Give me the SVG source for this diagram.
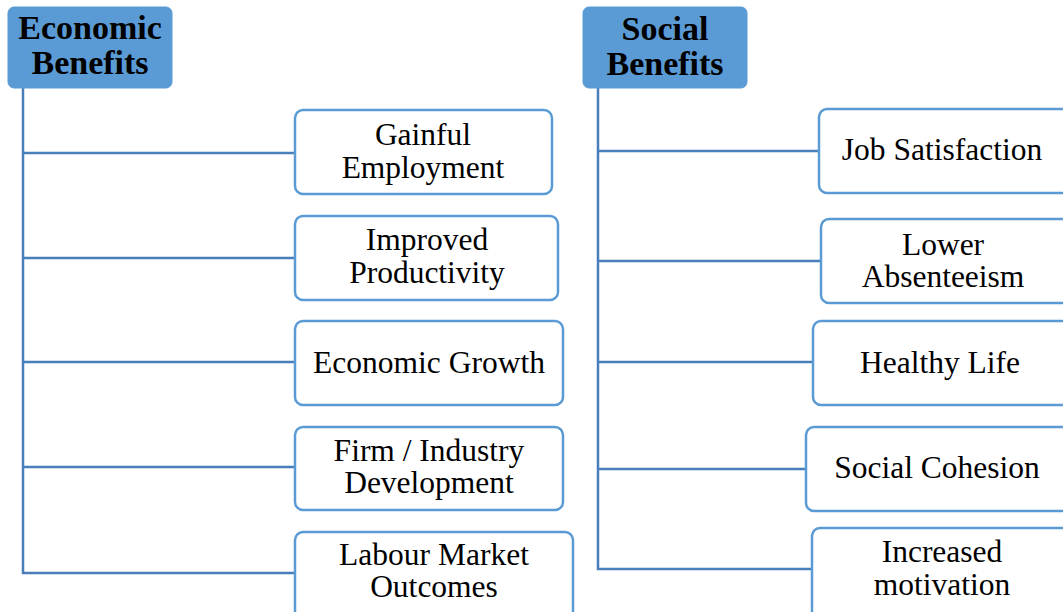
<svg xmlns="http://www.w3.org/2000/svg" width="1063" height="612" viewBox="0 0 1063 612">
<style>
.hdr{fill:#5B9BD5;stroke:#5B9BD5;stroke-width:1}
.box{fill:#fff;stroke:#5B9BD5;stroke-width:2.5}
.ht{font-family:"Liberation Serif","Times New Roman",serif;font-weight:bold;font-size:34px;fill:#000;text-anchor:middle}
.bt{font-family:"Liberation Serif","Times New Roman",serif;font-size:31.5px;fill:#000;text-anchor:middle}
.con{fill:none;stroke:#4A7EBB;stroke-width:2.5}
</style>
<rect width="1063" height="612" fill="#fff"/>
<g id="connectors">
<path class="con" d="M23 88 V573 H295"/>
<path class="con" d="M23 153 H295 M23 258 H295 M23 362 H295 M23 467 H295"/>
<path class="con" d="M598 88 V569 H812"/>
<path class="con" d="M598 151 H819 M598 261 H821 M598 362 H813 M598 469 H806"/>
</g>
<g id="economic">
<rect class="hdr" x="8" y="7" width="164" height="81" rx="6"/>
<text class="ht" x="90" y="39">Economic</text>
<text class="ht" x="90" y="74">Benefits</text>
</g>
<g id="social">
<rect class="hdr" x="583" y="7" width="164" height="81" rx="6"/>
<text class="ht" x="665" y="40">Social</text>
<text class="ht" x="665" y="75">Benefits</text>
</g>
<g id="gainful">
<rect class="box" x="295" y="110" width="257" height="84" rx="8"/>
<text class="bt" x="423" y="145">Gainful</text>
<text class="bt" x="423" y="178">Employment</text>
</g>
<g id="productivity">
<rect class="box" x="295" y="216" width="263" height="84" rx="8"/>
<text class="bt" x="427" y="250">Improved</text>
<text class="bt" x="427" y="283">Productivity</text>
</g>
<g id="growth">
<rect class="box" x="295" y="321" width="268" height="84" rx="8"/>
<text class="bt" x="429" y="373">Economic Growth</text>
</g>
<g id="firm">
<rect class="box" x="295" y="427" width="268" height="83" rx="8"/>
<text class="bt" x="429" y="461">Firm / Industry</text>
<text class="bt" x="429" y="493">Development</text>
</g>
<g id="labour">
<rect class="box" x="295" y="532" width="278" height="90" rx="8"/>
<text class="bt" x="434" y="565">Labour Market</text>
<text class="bt" x="434" y="597">Outcomes</text>
</g>
<g id="job">
<rect class="box" x="819" y="109" width="260" height="84" rx="8"/>
<text class="bt" x="942" y="160">Job Satisfaction</text>
</g>
<g id="absenteeism">
<rect class="box" x="821" y="219" width="260" height="84" rx="8"/>
<text class="bt" x="943" y="255">Lower</text>
<text class="bt" x="943" y="287">Absenteeism</text>
</g>
<g id="healthy">
<rect class="box" x="813" y="321" width="260" height="84" rx="8"/>
<text class="bt" x="940" y="373">Healthy Life</text>
</g>
<g id="cohesion">
<rect class="box" x="806" y="427" width="270" height="84" rx="8"/>
<text class="bt" x="937" y="478">Social Cohesion</text>
</g>
<g id="motivation">
<rect class="box" x="812" y="528" width="265" height="94" rx="8"/>
<text class="bt" x="942" y="562">Increased</text>
<text class="bt" x="942" y="595">motivation</text>
</g>
</svg>
